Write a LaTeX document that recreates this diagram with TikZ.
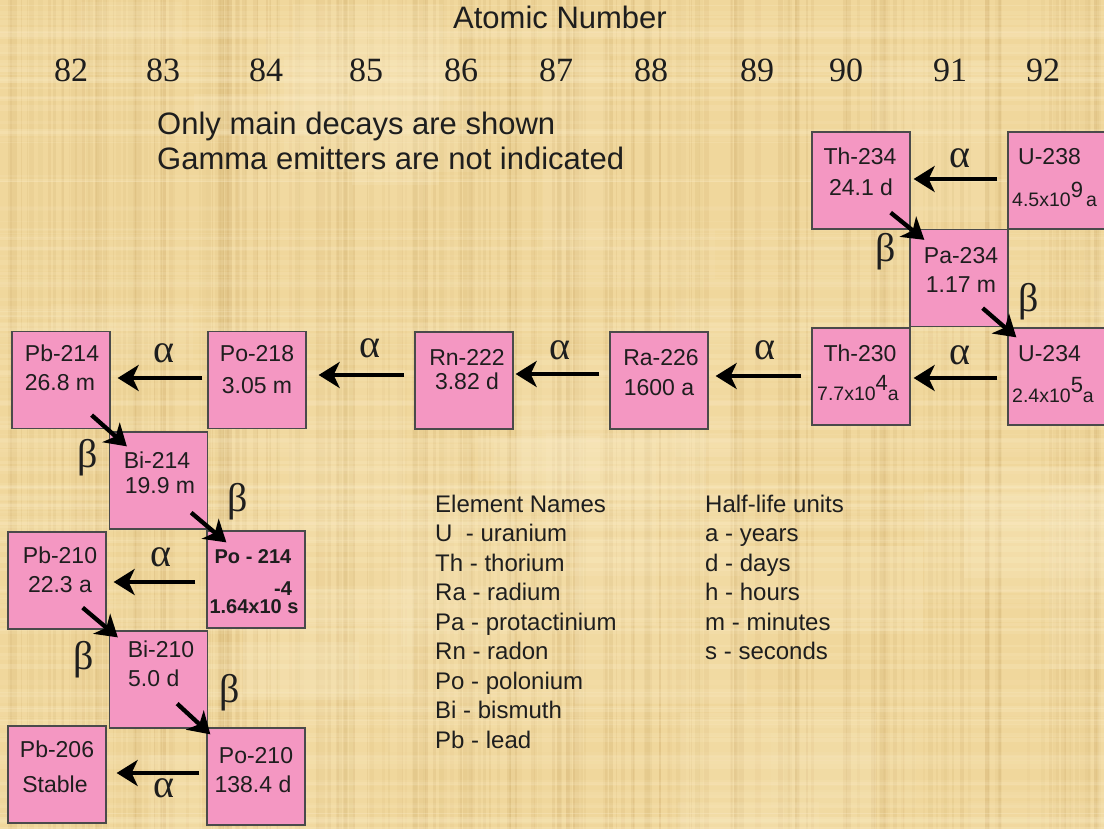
\documentclass[tikz,border=0pt]{standalone}
\usepackage{fontspec}
\setmainfont{Liberation Sans}
\newfontfamily\seriffont{Liberation Serif}
\usetikzlibrary{arrows.meta}
\newcommand\fsz[1]{\fontsize{#1}{#1}\selectfont}
\newcommand\supx[1]{\raisebox{.5em}{\fsz{22}#1}}
\definecolor{parch}{HTML}{F0D79C}
\definecolor{parchdark}{HTML}{C49F5C}
\definecolor{parchlight}{HTML}{FFF3D2}
\definecolor{isopink}{HTML}{F497C2}
\definecolor{boxline}{HTML}{4A4A4A}
\definecolor{ink}{HTML}{1E1E1E}
\tikzset{
  iso/.style={draw=boxline, line width=1.3pt, fill=isopink, minimum width=98pt, minimum height=97pt, inner sep=0pt},
  txt/.style={font=\fsz{23}, text=ink, inner sep=0pt, anchor=base},
  small/.style={font=\fsz{19.5}, text=ink, inner sep=0pt, anchor=base},
  bold/.style={font=\bfseries\fsz{20}, text=ink, inner sep=0pt, anchor=base},
  legend/.style={font=\fsz{24}, text=ink, inner sep=0pt, anchor=base west},
  num/.style={font=\seriffont\fsz{34}, text=ink, inner sep=0pt},
  greek/.style={font=\seriffont\fsz{40}, text=ink, inner sep=0pt},
  decay/.style={line width=4.3pt, draw=black, -{Stealth[length=21pt,width=26pt,inset=6pt]}},
}
\begin{document}
\begin{tikzpicture}[x=1pt,y=-1pt]
\clip (0,0) rectangle (1104,829);
% parchment background
\fill[parch] (0,0) rectangle (1104,829);
\pgfmathsetseed{42}
\foreach \i in {1,...,220}{
  \pgfmathsetmacro\xx{rnd*1104}
  \pgfmathsetmacro\ww{1+rnd*5}
  \pgfmathsetmacro\op{0.05+rnd*0.12}
  \fill[parchdark, opacity=\op] (\xx,0) rectangle ++(\ww,829);
}
\foreach \i in {1,...,180}{
  \pgfmathsetmacro\yy{rnd*829}
  \pgfmathsetmacro\hh{1+rnd*5}
  \pgfmathsetmacro\op{0.05+rnd*0.14}
  \fill[parchlight, opacity=\op] (0,\yy) rectangle ++(1104,\hh);
}
\foreach \i in {1,...,40}{
  \pgfmathsetmacro\xx{rnd*1104}
  \pgfmathsetmacro\yy{rnd*829}
  \pgfmathsetmacro\ww{40+rnd*160}
  \pgfmathsetmacro\hh{40+rnd*160}
  \pgfmathsetmacro\op{0.05+rnd*0.10}
  \fill[parchlight, opacity=\op] (\xx,\yy) rectangle ++(\ww,\hh);
}

% header
\node[font=\fsz{31}, text=ink, inner sep=0pt] (title) at (560,17) {Atomic Number};
\foreach \n/\x in {82/71,83/163,84/266,85/366,86/461,87/556,88/651,89/757,90/846,91/950,92/1043}
  \node[num] (z\n) at (\x,70) {\n};
\node[font=\fsz{31}, text=ink, inner sep=0pt, anchor=base west] (note1) at (157,135) {Only main decays are shown};
\node[font=\fsz{31}, text=ink, inner sep=0pt, anchor=base west] (note2) at (157,170) {Gamma emitters are not indicated};

% isotope boxes
\node[iso] (th234) at (861,180.5) {};
\node[iso] (u238)  at (1057,180.5) {};
\node[iso] (pa234) at (959,278) {};
\node[iso] (th230) at (861,376.5) {};
\node[iso] (u234)  at (1057,376.5) {};
\node[iso] (ra226) at (659,380.5) {};
\node[iso] (rn222) at (464,380.5) {};
\node[iso] (po218) at (257,380) {};
\node[iso] (pb214) at (61,380) {};
\node[iso] (bi214) at (158.5,480.5) {};
\node[iso] (po214) at (256,579.5) {};
\node[iso] (pb210) at (57,580.5) {};
\node[iso] (bi210) at (158.5,679.5) {};
\node[iso] (po210) at (256,776.5) {};
\node[iso] (pb206) at (57,774.5) {};

% box texts
\node[txt] (th234a) at (860,165) {Th-234};
\node[txt] (th234b) at (861,196) {24.1 d};
\node[txt, anchor=base west] (u238a) at (1018,165) {U-238};
\node[small, anchor=base west] (u238b) at (1012,207) {4.5x10\supx{9}\,a};
\node[txt] (pa234a) at (961,264) {Pa-234};
\node[txt] (pa234b) at (961,293) {1.17 m};
\node[txt] (th230a) at (860,362) {Th-230};
\node[small] (th230b) at (858,400) {7.7x10\supx{4}a};
\node[txt, anchor=base west] (u234a) at (1018,362) {U-234};
\node[small, anchor=base west] (u234b) at (1012,402) {2.4x10\supx{5}a};
\node[txt] (ra226a) at (661,365) {Ra-226};
\node[txt] (ra226b) at (659,395) {1600 a};
\node[txt] (rn222a) at (467,365) {Rn-222};
\node[txt] (rn222b) at (467,389) {3.82 d};
\node[txt] (po218a) at (257,362) {Po-218};
\node[txt] (po218b) at (257,393) {3.05 m};
\node[txt] (pb214a) at (62,362) {Pb-214};
\node[txt] (pb214b) at (60,390) {26.8 m};
\node[txt] (bi214a) at (157,468) {Bi-214};
\node[txt] (bi214b) at (160,493) {19.9 m};
\node[bold] (po214a) at (253,563) {Po - 214};
\node[bold] (po214e) at (283,595) {-4};
\node[bold] (po214b) at (254,613) {1.64x10 s};
\node[txt] (pb210a) at (60,563) {Pb-210};
\node[txt] (pb210b) at (60,592) {22.3 a};
\node[txt] (bi210a) at (161,657) {Bi-210};
\node[txt, anchor=base west] (bi210b) at (128,686) {5.0 d};
\node[txt] (po210a) at (256,763) {Po-210};
\node[txt] (po210b) at (253,792) {138.4 d};
\node[txt] (pb206a) at (57,757) {Pb-206};
\node[txt] (pb206b) at (55,792) {Stable};

% alpha decays
\draw[decay, shorten <=10pt, shorten >=3pt] (u238.west |- 0,179) -- (th234.east |- 0,179);
\draw[decay, shorten <=10pt, shorten >=3pt] (u234.west |- 0,378) -- (th230.east |- 0,378);
\draw[decay, shorten <=10pt, shorten >=7pt] (th230.west |- 0,376) -- (ra226.east |- 0,376);
\draw[decay, shorten <=10pt, shorten >=2pt] (ra226.west |- 0,374) -- (rn222.east |- 0,374);
\draw[decay, shorten <=10pt, shorten >=12pt] (rn222.west |- 0,375) -- (po218.east |- 0,375);
\draw[decay, shorten <=5pt, shorten >=7pt] (po218.west |- 0,378) -- (pb214.east |- 0,378);
\draw[decay, shorten <=11pt, shorten >=7pt] (po214.west |- 0,582) -- (pb210.east |- 0,582);
\draw[decay, shorten <=7pt, shorten >=10pt] (po210.west |- 0,773) -- (pb206.east |- 0,773);

% beta decays
\draw[decay] ([shift={(-20pt,17pt)}]th234.south east) -- ([shift={(15pt,-11pt)}]pa234.north west);
\draw[decay] ([shift={(-26pt,19pt)}]pa234.south east) -- ([shift={(9pt,-10pt)}]u234.north west);
\draw[decay] ([shift={(-19pt,14pt)}]pb214.south east) -- ([shift={(18pt,-15pt)}]bi214.north west);
\draw[decay] ([shift={(-17pt,17pt)}]bi214.south east) -- ([shift={(20pt,-12pt)}]po214.north west);
\draw[decay] ([shift={(-24pt,22pt)}]pb210.south east) -- ([shift={(9pt,-7pt)}]bi210.north west);
\draw[decay] ([shift={(-31pt,25pt)}]bi210.south east) -- ([shift={(4pt,-7pt)}]po210.north west);

% decay labels
\node[greek] (a1) at (960,158) {α};
\node[greek] (a2) at (960,355) {α};
\node[greek] (a3) at (765,350) {α};
\node[greek] (a4) at (560,350) {α};
\node[greek] (a5) at (370,348) {α};
\node[greek] (a6) at (164,353) {α};
\node[greek] (a7) at (161,557) {α};
\node[greek] (a8) at (164,788) {α};
\node[greek] (b1) at (886,252) {β};
\node[greek] (b2) at (1029,302) {β};
\node[greek] (b3) at (88,458) {β};
\node[greek] (b4) at (238,502) {β};
\node[greek] (b5) at (84,660) {β};
\node[greek] (b6) at (230,693) {β};

% legend
\node[legend] (en0) at (435,512) {Element Names};
\node[legend] (en1) at (435,541.5) {U\ \ - uranium};
\node[legend] (en2) at (435,571) {Th - thorium};
\node[legend] (en3) at (435,600.5) {Ra - radium};
\node[legend] (en4) at (435,630) {Pa - protactinium};
\node[legend] (en5) at (435,659.5) {Rn - radon};
\node[legend] (en6) at (435,689) {Po - polonium};
\node[legend] (en7) at (435,718.5) {Bi - bismuth};
\node[legend] (en8) at (435,748) {Pb - lead};
\node[legend] (hl0) at (705,512) {Half-life units};
\node[legend] (hl1) at (705,541.5) {a - years};
\node[legend] (hl2) at (705,571) {d - days};
\node[legend] (hl3) at (705,600.5) {h - hours};
\node[legend] (hl4) at (705,630) {m - minutes};
\node[legend] (hl5) at (705,659.5) {s - seconds};
\end{tikzpicture}
\end{document}
